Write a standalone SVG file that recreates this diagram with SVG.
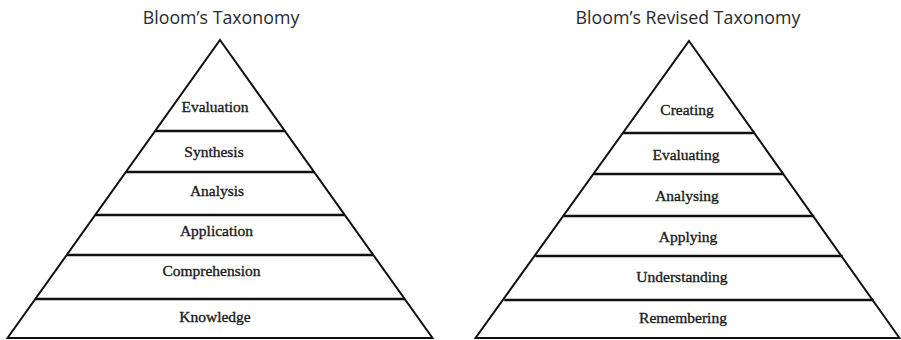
<svg xmlns="http://www.w3.org/2000/svg" width="901" height="340" viewBox="0 0 901 340">
<style>
.title{font-family:"Open Sans","Liberation Sans",sans-serif;font-size:17.8px;fill:#2a2a2a;text-anchor:middle}
.lbl{font-family:"Liberation Serif","Times New Roman",serif;font-size:15.5px;fill:#1a1a1a;stroke:#1a1a1a;stroke-width:0.35;text-anchor:middle}
.edge{fill:none;stroke:#111;stroke-width:2;stroke-linejoin:miter}
.band{stroke:#111;stroke-width:2.4}
</style>
<rect width="901" height="340" fill="#fff"/>
<text class="title" x="221" y="24">Bloom’s Taxonomy</text>
<text class="title" x="688" y="24">Bloom’s Revised Taxonomy</text>
<g id="connectors">
<polygon class="edge" points="220,40 432.5,338 7.5,338"/>
<polygon class="edge" points="689,41 899.5,338 475.5,338"/>
</g>
<g id="left-pyramid">
<g id="evaluation"><text class="lbl" x="215" y="112">Evaluation</text><line class="band" x1="155.1" y1="131" x2="284.9" y2="131"/></g>
<g id="synthesis"><text class="lbl" x="214" y="157">Synthesis</text><line class="band" x1="125.9" y1="172" x2="314.1" y2="172"/></g>
<g id="analysis"><text class="lbl" x="217" y="196">Analysis</text><line class="band" x1="95.2" y1="215" x2="344.8" y2="215"/></g>
<g id="application"><text class="lbl" x="216.5" y="236">Application</text><line class="band" x1="66.7" y1="255" x2="373.3" y2="255"/></g>
<g id="comprehension"><text class="lbl" x="211.5" y="276">Comprehension</text><line class="band" x1="35.3" y1="299" x2="404.7" y2="299"/></g>
<g id="knowledge"><text class="lbl" x="215" y="322">Knowledge</text></g>
</g>
<g id="right-pyramid">
<g id="creating"><text class="lbl" x="687" y="115">Creating</text><line class="band" x1="623.1" y1="133" x2="754.9" y2="133"/></g>
<g id="evaluating"><text class="lbl" x="686" y="160">Evaluating</text><line class="band" x1="594.1" y1="174" x2="783.9" y2="174"/></g>
<g id="analysing"><text class="lbl" x="687" y="201">Analysing</text><line class="band" x1="563.7" y1="216" x2="814.3" y2="216"/></g>
<g id="applying"><text class="lbl" x="688" y="241.5">Applying</text><line class="band" x1="535.4" y1="256" x2="842.6" y2="256"/></g>
<g id="understanding"><text class="lbl" x="682" y="281.5">Understanding</text><line class="band" x1="504.3" y1="300" x2="873.7" y2="300"/></g>
<g id="remembering"><text class="lbl" x="683" y="323">Remembering</text></g>
</g>
</svg>
